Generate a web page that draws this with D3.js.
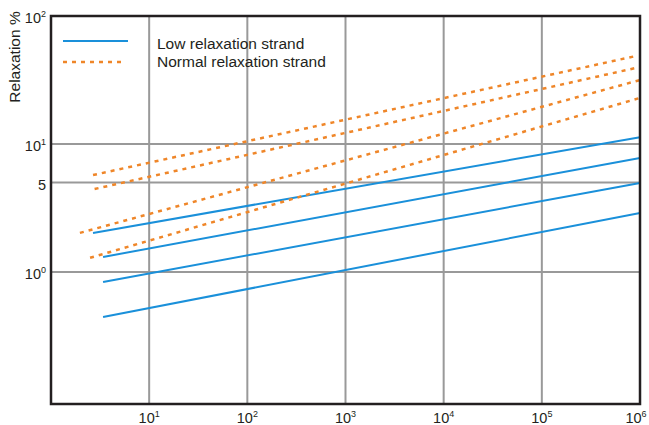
<!DOCTYPE html>
<html>
<head>
<meta charset="utf-8">
<script src="https://cdn.jsdelivr.net/npm/d3@7"></script>
<style>
  body { margin: 0; background: #fff; }
  text { font-family: "Liberation Sans", Arial, sans-serif; fill: #231f20; }
</style>
</head>
<body>
<div id="chart"></div>
<script>
// time (x) ticks and relaxation (y) ticks
const xTicks = [1e1, 1e2, 1e3, 1e4, 1e5, 1e6];
const xTickExp = ["1", "2", "3", "4", "5", "6"];
const yTicks = [1, 5, 10, 100];
const yTickBase = ["10", "5", "10", "10"];
const yTickExp = ["0", "", "1", "2"];
const xGrid = [1e1, 1e2, 1e3, 1e4, 1e5];
const yGrid = [1, 5, 10];

// each line: [start, end] as [time, relaxation %]
const lowRelaxation = [
  [[2.68, 2.02], [1e6, 11.3]],
  [[3.39, 1.31], [1e6, 7.77]],
  [[3.39, 0.835], [1e6, 4.96]],
  [[3.39, 0.445], [1e6, 2.89]]
];
const normalRelaxation = [
  [[2.68, 5.72], [9.1e5, 48.7]],
  [[2.78, 4.45], [9.1e5, 39.3]],
  [[1.97, 2.02], [1e6, 31.6]],
  [[2.50, 1.29], [1e6, 22.9]]
];
const legendLabels = ["Low relaxation strand", "Normal relaxation strand"];

let margin = { top: 16, right: 9, bottom: 21, left: 51 },
  width = 649 - margin.left - margin.right,
  height = 425 - margin.top - margin.bottom;

let svg = d3.select("#chart")
  .append("svg")
  .attr("width", 649)
  .attr("height", 425)
  .append("g")
  .attr("transform", "translate(" + margin.left + "," + margin.top + ")");

let x = d3.scaleLog()
  .domain([1, 1e6])
  .range([0, width]);

let y = d3.scaleLog()
  .domain([0.093, 100])
  .range([height, 0]);

let grid = "#999999";
let blue = "#1a90da";
let orange = "#ef8629";

// grid
svg.selectAll(".vgrid")
  .data(xGrid)
  .enter()
  .append("line")
  .attr("x1", d => x(d)).attr("x2", d => x(d))
  .attr("y1", 0).attr("y2", height)
  .attr("stroke", grid)
  .attr("stroke-width", 2);

svg.selectAll(".hgrid")
  .data(yGrid)
  .enter()
  .append("line")
  .attr("x1", 0).attr("x2", width)
  .attr("y1", d => y(d)).attr("y2", d => y(d))
  .attr("stroke", grid)
  .attr("stroke-width", 2);

let line = d3.line()
  .x(d => x(d[0]))
  .y(d => y(d[1]));

svg.selectAll(".low")
  .data(lowRelaxation)
  .enter()
  .append("path")
  .attr("d", line)
  .attr("fill", "none")
  .attr("stroke", blue)
  .attr("stroke-width", 2);

svg.selectAll(".normal")
  .data(normalRelaxation)
  .enter()
  .append("path")
  .attr("d", line)
  .attr("fill", "none")
  .attr("stroke", orange)
  .attr("stroke-width", 2.5)
  .attr("stroke-dasharray", "4,5");

// frame
svg.append("rect")
  .attr("x", 0).attr("y", 0)
  .attr("width", width).attr("height", height)
  .attr("fill", "none")
  .attr("stroke", "#231f20")
  .attr("stroke-width", 2.5);

// x tick labels (last one nudged in so it stays on the page)
let xl = svg.selectAll(".xlab")
  .data(xTicks)
  .enter()
  .append("text")
  .attr("x", (d, i) => x(d) - (i === xTicks.length - 1 ? 4 : 0))
  .attr("y", height + 19)
  .attr("text-anchor", "middle")
  .style("font-size", "14.5px");
xl.append("tspan").text("10");
xl.append("tspan")
  .attr("dy", -6)
  .style("font-size", "9px")
  .text((d, i) => xTickExp[i]);

// y tick labels
let yl = svg.selectAll(".ylab")
  .data(yTicks)
  .enter()
  .append("text")
  .attr("x", -5)
  .attr("y", d => y(d) + 7)
  .attr("text-anchor", "end")
  .style("font-size", "14.5px");
yl.append("tspan").text((d, i) => yTickBase[i]);
yl.append("tspan")
  .attr("dy", -6)
  .style("font-size", "9px")
  .text((d, i) => yTickExp[i]);

// y title
svg.append("text")
  .attr("transform", "translate(" + (20 - margin.left) + ",41) rotate(-90)")
  .attr("text-anchor", "middle")
  .style("font-size", "15.5px")
  .text("Relaxation %");

// legend
let legend = svg.append("g").attr("transform", "translate(12,0)");
legend.append("line")
  .attr("x1", 0).attr("x2", 65)
  .attr("y1", 25).attr("y2", 25)
  .attr("stroke", blue)
  .attr("stroke-width", 2);
legend.append("line")
  .attr("x1", 0).attr("x2", 62)
  .attr("y1", 46).attr("y2", 46)
  .attr("stroke", orange)
  .attr("stroke-width", 2.5)
  .attr("stroke-dasharray", "4,5");
legend.selectAll("text")
  .data(legendLabels)
  .enter()
  .append("text")
  .attr("x", 94)
  .attr("y", (d, i) => 33 + i * 17.5)
  .style("font-size", "15.5px")
  .text(d => d);
</script>
</body>
</html>
